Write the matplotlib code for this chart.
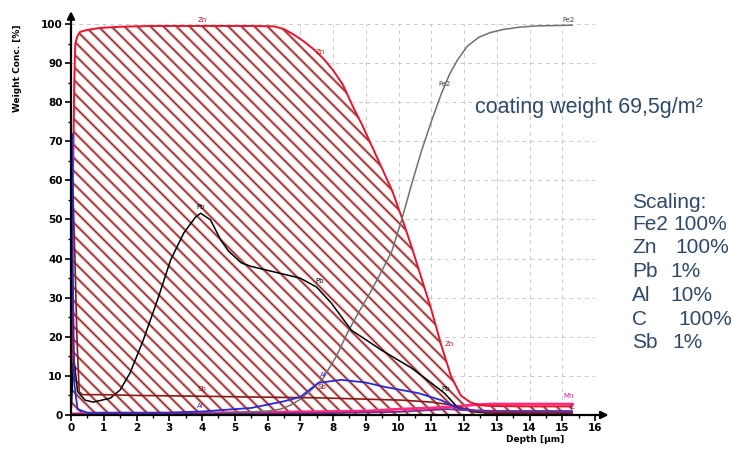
import matplotlib
matplotlib.use("Agg")
import numpy as np
import matplotlib.pyplot as plt
from matplotlib.ticker import MultipleLocator
from matplotlib.collections import LineCollection

# depth profiles (depth in um, weight conc. in %)
zn_depth = [0, 0.03, 0.06, 0.1, 0.13, 0.2, 0.28, 0.5, 0.9, 1.5, 2.5, 4, 5.5, 6.2, 6.5,
            6.8, 7.1, 7.4, 7.7, 8.0, 8.3, 8.6, 8.9, 9.2, 9.5, 9.8, 10.1, 10.4, 10.7,
            11.0, 11.3, 11.6, 11.9, 12.2, 12.5, 12.8, 14, 15.3]
zn_conc = [0, 20, 60, 85, 95, 97, 98, 98.5, 99, 99.3, 99.5, 99.5, 99.5, 99.4, 98.7,
           97.3, 95.6, 93.6, 91.2, 88.2, 84.5, 79, 74, 68.5, 63, 57.5, 50.5, 43, 35,
           27, 18, 10, 5, 3.2, 2.5, 2.3, 2.2, 2.2]

fe2_depth = [0, 3, 5, 6.0, 6.4, 6.7, 7.0, 7.35, 7.7, 8.1, 8.47, 8.8, 9.15, 9.5, 9.8,
             10.1, 10.4, 10.7, 11.0, 11.3, 11.55, 11.8, 12.1, 12.45, 12.8, 13.2, 13.7,
             14.2, 15.3]
fe2_conc = [0.2, 0.3, 0.6, 1.0, 1.5, 2.5, 4.0, 6.5, 9.4, 15, 21.5, 26.5, 31.5, 37, 42,
            50, 59, 67.5, 75, 82, 87, 90.8, 94.3, 96.6, 97.8, 98.6, 99.2, 99.5, 99.7]

pb_depth = [0, 0.08, 0.2, 0.43, 0.68, 1.2, 1.5, 1.8, 2.2, 2.64, 3.04, 3.44, 3.8, 3.96,
            4.26, 4.57, 4.8, 5.2, 5.5, 6.0, 7.0, 7.5, 7.95, 8.56, 9.48, 10.4, 11.0, 11.4,
            11.8, 12.3, 12.8, 15.3]
pb_conc = [0, 15, 6, 3.8, 3.3, 4.3, 6.4, 10.7, 19, 29.4, 39.6, 46.5, 50.6, 51.6,
           49.9, 44.8, 42, 38.9, 38, 37, 35, 32.7, 28.6, 21.7, 16.6, 12, 8.2, 5.6,
           2, 0.8, 0.5, 0.5]

sb_depth = [0, 0.05, 0.12, 0.18, 0.25, 0.35, 1, 2, 4, 5.5, 7.5, 10.1, 11.0, 11.6, 12.2,
            12.8, 15.3]
sb_conc = [0, 60, 40, 20, 6, 5.2, 5.2, 5.0, 4.8, 4.6, 4.4, 3.8, 3.3, 2.6, 1.2, 0.6, 0.5]

al_depth = [0, 0.02, 0.05, 0.1, 0.2, 0.5, 3.0, 4.0, 5.5, 6.5, 7.0, 7.55, 8.25, 9.0, 9.57,
            10.6, 11.3, 11.8, 12.3, 13, 15.3]
al_conc = [0, 72, 40, 8, 1.5, 0.6, 0.6, 0.9, 1.8, 3.5, 4.6, 8.2, 9.0, 8.3, 7.2,
           5.6, 3.8, 1.8, 1.2, 1.0, 1.0]

mn_depth = [0, 4, 9, 10, 11, 11.8, 12.3, 12.8, 15.3]
mn_conc = [0.3, 0.5, 1.0, 1.5, 1.8, 2.2, 2.6, 2.8, 2.8]

c_depth = [0, 4, 8, 10, 11.5, 12.5, 15.3]
c_conc = [0.2, 0.3, 0.5, 0.8, 1.5, 1.0, 0.8]

# small element tags written on the curves: (text, depth, conc, colour)
curve_tags = [
    ("Zn", 4.0, 100.3, "#c01818"), ("Zn", 7.6, 92.0, "#c01818"), ("Zn", 11.55, 17.5, "#c01818"),
    ("Fe2", 15.2, 100.3, "#404040"), ("Fe2", 11.4, 84.0, "#404040"),
    ("Pb", 3.95, 52.5, "black"), ("Pb", 7.6, 33.5, "black"), ("Pb", 11.45, 6.0, "black"),
    ("Sb", 4.0, 5.8, "#8a1010"), ("Sb", 7.65, 6.3, "#8a1010"),
    ("Al", 3.95, 1.6, "#3030c0"), ("Al", 7.7, 9.4, "#3030c0"),
    ("Mn", 15.2, 4.2, "#c02080"), ("C", 15.3, 1.4, "#602060"),
]

scaling_names = ["Fe2", "Zn", "Pb", "Al", "C", "Sb"]
scaling_values = ["100%", "100%", "1%", "10%", "100%", "1%"]

fig = plt.figure(figsize=(7.31, 4.62), dpi=100)
W, H = 731, 462
ax_w, ax_h = 595 - 71, 415 - 24
ax = fig.add_axes([71 / W, 1 - 415 / H, ax_w / W, ax_h / H])
ax.set_xlim(0, 16)
ax.set_ylim(0, 100)

# zinc area: white fill with diagonal hatch lines clipped to it
zn_fill = ax.fill_between(zn_depth, 0, zn_conc, facecolor="white", linewidth=0, zorder=1)
step = 13.0 / ax_w
run = ax_h / ax_w
segs = [[(c, 1.0), (c + run, 0.0)] for c in np.arange(-run, 1.0, step)]
for col, lw, z in [("#f2a8a8", 2.2, 2), ("#7e2a2a", 0.9, 2.1)]:
    hatch = LineCollection(segs, colors=col, linewidths=lw, transform=ax.transAxes, zorder=z)
    hatch.set_clip_path(zn_fill.get_paths()[0], ax.transData)
    ax.add_collection(hatch)

ax.plot(zn_depth, zn_conc, color="#e8142c", lw=1.4, zorder=4)
ax.plot(fe2_depth, fe2_conc, color="#707070", lw=1.1, zorder=4)
ax.plot(pb_depth, pb_conc, color="black", lw=1.1, zorder=4)
ax.plot(sb_depth, sb_conc, color="#8a1a1a", lw=1.2, zorder=4)
ax.plot(al_depth, al_conc, color="#2a2ad0", lw=1.3, zorder=4)
ax.plot(mn_depth, mn_conc, color="#ff2a80", lw=2.0, zorder=3)
ax.plot(c_depth, c_conc, color="#7a2a8a", lw=1.3, zorder=4)

for txt, x, y, col in curve_tags:
    ax.text(x, y, txt, fontsize=5, color=col, ha="center", va="bottom", zorder=5)

ax.grid(True, color="#c8c8c8", lw=0.7, ls=(0, (4, 4)))
ax.set_axisbelow(True)

for s in ["top", "right"]:
    ax.spines[s].set_visible(False)
for s in ["left", "bottom"]:
    ax.spines[s].set_linewidth(1.6)
    ax.spines[s].set_zorder(6)

ax.xaxis.set_major_locator(MultipleLocator(1))
ax.xaxis.set_minor_locator(MultipleLocator(0.5))
ax.yaxis.set_major_locator(MultipleLocator(10))
ax.yaxis.set_minor_locator(MultipleLocator(5))
ax.tick_params(which="major", length=4, width=1.2, labelsize=7.5, pad=2)
ax.tick_params(which="minor", length=2.5, width=1.0)
for lab in ax.get_xticklabels() + ax.get_yticklabels():
    lab.set_fontweight("bold")

# axis arrows
ax.annotate("", xy=(0, 104), xytext=(0, 99.5), annotation_clip=False,
            arrowprops=dict(arrowstyle="-|>", color="black", lw=1.6, mutation_scale=11))
ax.annotate("", xy=(16.5, 0), xytext=(15.9, 0), annotation_clip=False,
            arrowprops=dict(arrowstyle="-|>", color="black", lw=1.6, mutation_scale=11))

fig.text(535 / W, 1 - 440 / H, "Depth [µm]", fontsize=6.5, fontweight="bold",
         ha="center", va="center")
fig.text(18 / W, 1 - 68 / H, "Weight Conc. [%]", fontsize=6.5, fontweight="bold",
         rotation=90, ha="center", va="center")

txt_col = "#2e4a68"
fig.text(475 / W, 1 - 107 / H, "coating weight 69,5g/m²", fontsize=15.5,
         family="Liberation Sans", color=txt_col, va="center")
fig.text(632 / W, 1 - 202 / H, "Scaling:", fontsize=15, family="Liberation Sans",
         color=txt_col, va="center")
value_x = [673, 675, 670, 670, 678, 672]
for i, (name, val) in enumerate(zip(scaling_names, scaling_values)):
    y = 1 - (224 + i * 23.8) / H
    fig.text(632 / W, y, name, fontsize=15, family="Liberation Sans", color=txt_col, va="center")
    fig.text(value_x[i] / W, y, val, fontsize=15, family="Liberation Sans", color=txt_col,
             va="center")

fig.savefig("out.png", dpi=100)
